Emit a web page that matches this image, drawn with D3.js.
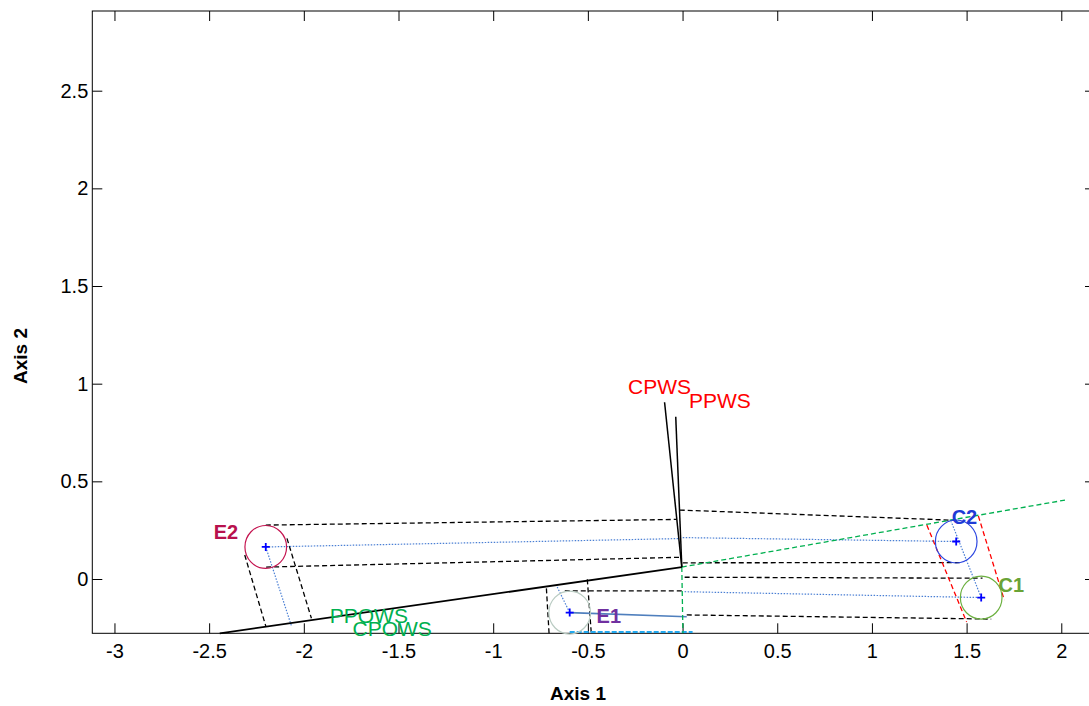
<!DOCTYPE html>
<html>
<head>
<meta charset="utf-8">
<script src="https://cdn.jsdelivr.net/npm/d3@7"></script>
<style>
  html, body { margin: 0; padding: 0; background: #fff; }
  svg { display: block; }
  text { font-family: "Liberation Sans", Arial, Helvetica, sans-serif; }
</style>
</head>
<body>
<svg id="chart" width="1089" height="706"></svg>
<script>
// Axis limits and ticks
const xLim = [-3.117, 2.178];
const yLim = [-0.278, 2.908];
const xTicks = [-3, -2.5, -2, -1.5, -1, -0.5, 0, 0.5, 1, 1.5, 2];
const yTicks = [0, 0.5, 1, 1.5, 2, 2.5];

// Groups (centre, radius, colour)
const groupNames  = ["E2", "E1", "C2", "C1"];
const groupX      = [-2.201, -0.596, 1.445, 1.577];
const groupY      = [0.164, -0.172, 0.192, -0.095];
const groupRadius = 0.11;
const circleColors = ["#c4134f", "#b9cbc2", "#2c46e0", "#6cb040"];
const labelColors  = ["#b8114d", "#7030a0", "#1f3ad6", "#6aa336"];
const labelX = [-2.476, -0.454, 1.421, 1.669];
const labelY = [0.205, -0.225, 0.282, -0.067];

// Variable vectors from the common origin
const origin = [-0.004, 0.061];
const vectorNames = ["CPWS", "PPWS"];
const vectorEnds = [[-0.095, 0.905], [-0.036, 0.831]];
const vectorLabelPos = [[-0.288, 0.947], [0.034, 0.874]];
const owsAxisEnd = [-2.444, -0.278];           // solid black axis toward lower left
const greenAxisEnds = [[2.026, 0.405], [0.002, -0.278]];
const owsNames = ["PPOWS", "CPOWS"];
const owsLabelPos = [[-1.863, -0.225], [-1.743, -0.292]];

// Projection tangents of the group circles (x1, y1, x2, y2)
const blackDashed = [
  [-2.201, 0.276, -0.031, 0.305],
  [-2.199, 0.061, -0.015, 0.111],
  [-0.015, 0.353, 1.457, 0.300],
  [0.001, 0.083, 1.474, 0.084],
  [0.011, 0.009, 1.584, 0.004],
  [0.022, -0.184, 1.630, -0.205],
  [-2.312, 0.123, -2.201, -0.241],
  [-2.089, 0.208, -1.960, -0.201],
  [-0.719, -0.048, -0.705, -0.278],
  [-0.503, -0.002, -0.482, -0.278],
  [-0.622, -0.061, 0.001, -0.061]
];
const redDashed = [
  [1.290, 0.276, 1.500, -0.220],
  [1.562, 0.323, 1.699, -0.108]
];
// Projections of the group centres
const blueDotted = [
  [-2.201, 0.164, -0.015, 0.207],
  [0.001, 0.212, 1.445, 0.192],
  [0.011, -0.065, 1.577, -0.095],
  [-2.201, 0.164, -2.065, -0.241],
  [-0.596, -0.172, -0.663, -0.039],
  [1.577, -0.095, 1.419, 0.293]
];
const e1Solid = [-0.596, -0.172, 0.022, -0.193];
const e1Cyan = [-0.596, -0.271, 0.053, -0.271];

const svg = d3.select("#chart");
const x = d3.scaleLinear().domain(xLim).range([92.3, 1095]);
const y = d3.scaleLinear().domain(yLim).range([633.3, 11]);

// Axes (ticks point inward on all four sides)
const tickFmt = d => String(d);
const gx = svg.append("g").attr("transform", `translate(0,${y(yLim[0])})`)
  .call(d3.axisBottom(x).tickValues(xTicks).tickSize(-10).tickPadding(10).tickFormat(tickFmt));
const gxt = svg.append("g").attr("transform", `translate(0,${y(yLim[1])})`)
  .call(d3.axisTop(x).tickValues(xTicks).tickSize(-10).tickFormat(""));
const gy = svg.append("g").attr("transform", `translate(${x(xLim[0])},0)`)
  .call(d3.axisLeft(y).tickValues(yTicks).tickSize(-10).tickPadding(4).tickFormat(tickFmt));
const gyr = svg.append("g").attr("transform", `translate(${x(xLim[1])},0)`)
  .call(d3.axisRight(y).tickValues(yTicks).tickSize(-10).tickFormat(""));
[gx, gxt, gy, gyr].forEach(g => {
  g.select(".domain").remove();
  g.selectAll(".tick line").attr("stroke", "#000").attr("stroke-width", 1);
  g.selectAll("text").attr("font-size", 20).attr("fill", "#000")
    .style("font-family", "'Liberation Sans', Arial, sans-serif");
});
gx.selectAll(".tick text").attr("dy", "0.75em");

svg.append("rect")
  .attr("x", x(xLim[0])).attr("y", y(yLim[1]))
  .attr("width", x(xLim[1]) - x(xLim[0])).attr("height", y(yLim[0]) - y(yLim[1]))
  .attr("fill", "none").attr("stroke", "#000").attr("stroke-width", 1);

// Axis titles
svg.append("text").attr("x", 578).attr("y", 700).attr("text-anchor", "middle")
  .attr("font-size", 19).attr("font-weight", "bold").text("Axis 1");
svg.append("text").attr("transform", "translate(27,356) rotate(-90)").attr("text-anchor", "middle")
  .attr("font-size", 19).attr("font-weight", "bold").text("Axis 2");

const plot = svg.append("g");
function segs(data, color, dash, width) {
  plot.selectAll(null).data(data).enter().append("line")
    .attr("x1", d => x(d[0])).attr("y1", d => y(d[1]))
    .attr("x2", d => x(d[2])).attr("y2", d => y(d[3]))
    .attr("stroke", color).attr("stroke-width", width)
    .attr("stroke-dasharray", dash);
}

segs(blackDashed, "#000", "5,3", 1.3);
segs(redDashed, "#ff0000", "5,3", 1.3);
segs(blueDotted, "#4a7fd4", "1.5,1.5", 1.2);
segs([e1Solid], "#4f7fbd", null, 1.6);
segs([e1Cyan], "#22a8ee", "5,2", 2);

// Green dashed axis
segs(greenAxisEnds.map(e => [origin[0], origin[1], e[0], e[1]]), "#00b050", "5,3", 1.3);

// Solid black vectors
segs([[origin[0], origin[1], owsAxisEnd[0], owsAxisEnd[1]]], "#000", null, 1.8);
segs(vectorEnds.map(e => [origin[0], origin[1], e[0], e[1]]), "#000", null, 1.5);

// Group circles
plot.selectAll(null).data(groupNames).enter().append("ellipse")
  .attr("cx", (d, i) => x(groupX[i])).attr("cy", (d, i) => y(groupY[i]))
  .attr("rx", x(groupRadius) - x(0)).attr("ry", y(0) - y(groupRadius))
  .attr("fill", "none").attr("stroke", (d, i) => circleColors[i]).attr("stroke-width", 1.2);

// Centre markers
const cross = 4;
groupNames.forEach((n, i) => {
  const cx = x(groupX[i]), cy = y(groupY[i]);
  plot.append("path")
    .attr("d", `M${cx - cross},${cy}H${cx + cross}M${cx},${cy - cross}V${cy + cross}`)
    .attr("stroke", "#0000ff").attr("stroke-width", 1.8);
});

// Group labels
plot.selectAll(null).data(groupNames).enter().append("text")
  .attr("x", (d, i) => x(labelX[i])).attr("y", (d, i) => y(labelY[i]))
  .attr("font-size", 20).attr("font-weight", "bold")
  .attr("fill", (d, i) => labelColors[i]).text(d => d);

// Vector labels
plot.selectAll(null).data(vectorNames).enter().append("text")
  .attr("x", (d, i) => x(vectorLabelPos[i][0])).attr("y", (d, i) => y(vectorLabelPos[i][1]))
  .attr("font-size", 21).attr("fill", "#ff0000").text(d => d);
plot.selectAll(null).data(owsNames).enter().append("text")
  .attr("x", (d, i) => x(owsLabelPos[i][0])).attr("y", (d, i) => y(owsLabelPos[i][1]))
  .attr("font-size", 21).attr("fill", "#00b050").text(d => d);
</script>
</body>
</html>
